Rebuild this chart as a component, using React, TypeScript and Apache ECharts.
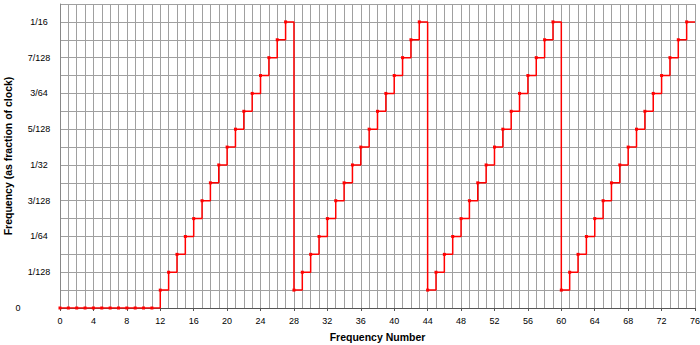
import React, { useEffect, useRef } from "react";
import * as echarts from "echarts";

const frequencyNumbers = [
  "0", "1", "2", "3", "4", "5", "6", "7", "8", "9", "10", "11", "12", "13", "14", "15", "16", "17", "18", "19",
  "20", "21", "22", "23", "24", "25", "26", "27", "28", "29", "30", "31", "32", "33", "34", "35", "36", "37", "38", "39",
  "40", "41", "42", "43", "44", "45", "46", "47", "48", "49", "50", "51", "52", "53", "54", "55", "56", "57", "58", "59",
  "60", "61", "62", "63", "64", "65", "66", "67", "68", "69", "70", "71", "72", "73", "74", "75", "76",
];

// frequency in units of 1/256 of the clock
const levels256 = [
  0, 0, 0, 0, 0, 0, 0, 0, 0, 0, 0, 0,
  1, 2, 3, 4, 5, 6, 7, 8, 9, 10, 11, 12, 13, 14, 15, 16,
  1, 2, 3, 4, 5, 6, 7, 8, 9, 10, 11, 12, 13, 14, 15, 16,
  1, 2, 3, 4, 5, 6, 7, 8, 9, 10, 11, 12, 13, 14, 15, 16,
  1, 2, 3, 4, 5, 6, 7, 8, 9, 10, 11, 12, 13, 14, 15, 16,
  16,
];

const yTickLabels = ["0", "1/128", "1/64", "3/128", "1/32", "5/128", "3/64", "7/128", "1/16"];

const FONT = "'Liberation Sans', Arial, sans-serif";

export default function App() {
  const ref = useRef<HTMLDivElement>(null);

  useEffect(() => {
    if (!ref.current) return;
    const chart = echarts.init(ref.current, null, { renderer: "svg" });
    const lastIdx = levels256.length - 1;
    const data = levels256.map((v, i) =>
      i === lastIdx ? { value: v / 256, symbol: "none" } : v / 256
    );
    chart.setOption({
      animation: false,
      backgroundColor: "#ffffff",
      grid: { left: 60, right: 5, top: 4, bottom: 37, containLabel: false, outerBoundsMode: "none" },
      xAxis: {
        type: "category",
        data: frequencyNumbers,
        boundaryGap: false,
        name: "Frequency Number",
        nameLocation: "middle",
        nameGap: 23,
        nameMoveOverlap: false,
        nameTextStyle: { fontFamily: FONT, fontSize: 10.5, fontWeight: "bold", color: "#000" },
        axisLine: { show: true, lineStyle: { color: "#555", width: 1 } },
        axisTick: { show: true, interval: 3, length: 3, lineStyle: { color: "#555" } },
        axisLabel: { interval: 3, fontFamily: FONT, fontSize: 9, color: "#000", margin: 8 },
        splitLine: { show: true, interval: 0, lineStyle: { color: "#a0a0a0", width: 1 } },
      },
      yAxis: {
        type: "value",
        min: 0,
        max: 17 / 256,
        interval: 1 / 256,
        name: "Frequency (as fraction of clock)",
        nameLocation: "middle",
        nameGap: 47,
        nameMoveOverlap: false,
        nameTextStyle: { fontFamily: FONT, fontSize: 10.5, fontWeight: "bold", color: "#000" },
        axisLine: { show: true, lineStyle: { color: "#888", width: 1 } },
        axisTick: { show: false },
        axisLabel: {
          fontFamily: FONT,
          fontSize: 9,
          color: "#000",
          align: "center",
          margin: 21,
          showMaxLabel: false,
          formatter: (v: number) => {
            const n = Math.round(v * 256);
            if (n % 2 !== 0 || n / 2 >= yTickLabels.length) return "";
            if (n === 0) return "{z|" + yTickLabels[0] + "}";
            return yTickLabels[n / 2];
          },
          rich: {
            z: { fontFamily: FONT, fontSize: 9, color: "#000", padding: [0, 42, 0, 0] },
          },
        },
        splitLine: { show: true, lineStyle: { color: "#a0a0a0", width: 1 } },
      },
      series: [
        {
          type: "line",
          step: "end",
          data,
          symbol: "rect",
          symbolSize: 3,
          showSymbol: true,
          lineStyle: { color: "#ff0000", width: 1.5 },
          itemStyle: { color: "#ff0000" },
          clip: true,
        },
      ],
    });
    return () => chart.dispose();
  }, []);

  return <div ref={ref} style={{ width: 700, height: 345, position: "absolute", left: 0, top: 0 }} />;
}
